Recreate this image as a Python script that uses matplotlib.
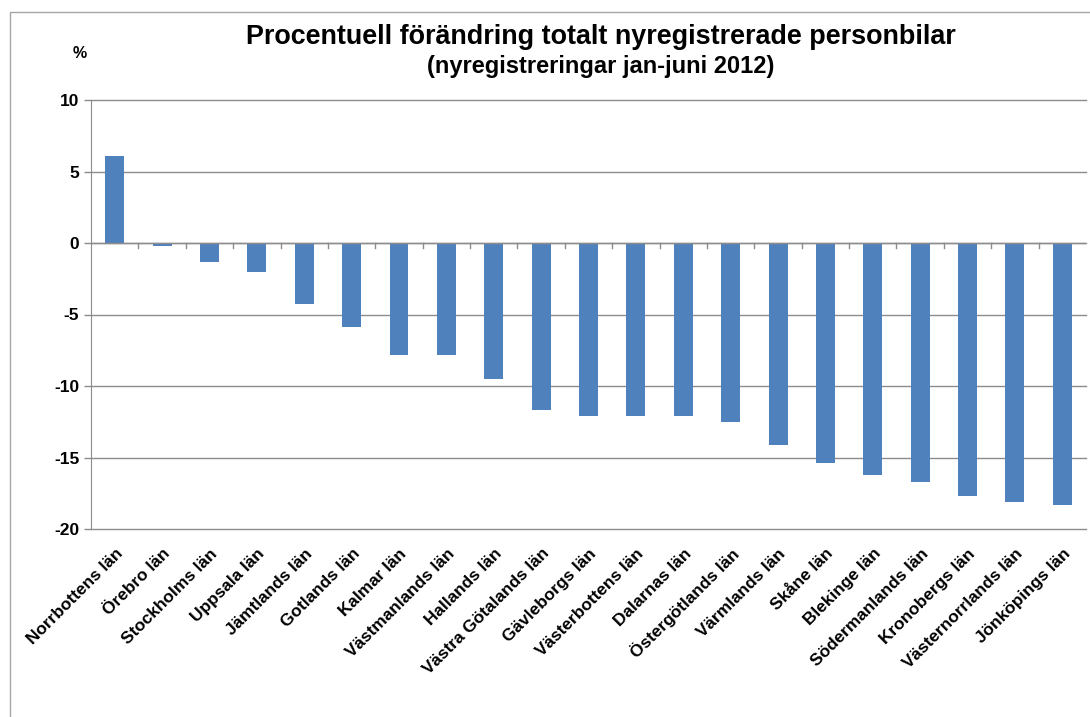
import matplotlib.pyplot as plt
import matplotlib.font_manager as fm
from matplotlib.patches import Rectangle
import numpy as np

# Data
lan = ["Norrbottens län", "Örebro län", "Stockholms län", "Uppsala län",
       "Jämtlands län", "Gotlands län", "Kalmar län", "Västmanlands län",
       "Hallands län", "Västra Götalands län", "Gävleborgs län",
       "Västerbottens län", "Dalarnas län", "Östergötlands län",
       "Värmlands län", "Skåne län", "Blekinge län", "Södermanlands län",
       "Kronobergs län", "Västernorrlands län", "Jönköpings län"]
forandring = [6.1, -0.2, -1.3, -2.0, -4.3, -5.9, -7.8, -7.8, -9.5, -11.7,
              -12.1, -12.1, -12.1, -12.5, -14.1, -15.4, -16.2, -16.7,
              -17.7, -18.1, -18.3]
y_ticks = [10, 5, 0, -5, -10, -15, -20]

names = {f.name for f in fm.fontManager.ttflist}
narrow = "Liberation Sans Narrow" if "Liberation Sans Narrow" in names else "Liberation Sans"
plt.rcParams['font.family'] = ['Liberation Sans', 'DejaVu Sans']

grey = '#8c8c8c'
fig = plt.figure(figsize=(10.9, 7.17), dpi=100)
ax = fig.add_axes([91/1090, 1 - 529/717, (1086 - 91)/1090, (529 - 100)/717])

x = np.arange(len(lan))
ax.bar(x, forandring, width=0.4, color='#4F81BD', zorder=3)

ax.set_xlim(-0.5, len(lan) - 0.5)
ax.set_ylim(-20, 10)
ax.set_yticks(y_ticks)
ax.set_yticklabels([str(v) for v in y_ticks], fontsize=12.5, fontweight='bold')
ax.tick_params(axis='y', length=5, color=grey, width=1, pad=3.5)

# gridlines (drawn by hand so the bottom one at -20 is not clipped)
for v in y_ticks:
    ax.axhline(v, color=grey, linewidth=1, zorder=1, clip_on=False)

for s in ['top', 'right', 'bottom']:
    ax.spines[s].set_visible(False)
ax.spines['left'].set_color(grey)

# horizontal axis on the zero line with ticks between categories
ax.axhline(0, color=grey, linewidth=1, zorder=4)
ax.set_xticks([])
for b in np.arange(0.5, len(lan) - 0.5, 1):
    ax.plot([b, b], [0, -0.35], color=grey, linewidth=1, zorder=4, clip_on=False)

for i, name in enumerate(lan):
    ax.annotate(name, xy=(i, -20), xytext=(4, -16), textcoords='offset points',
                rotation=45, rotation_mode='anchor', ha='right', va='center',
                fontsize=12.4, fontweight='bold')

fig.text(0.551, 1 - 37/717, "Procentuell förändring totalt nyregistrerade personbilar",
         ha='center', va='center', fontsize=19.4, fontweight='bold', family=narrow)
fig.text(0.5515, 1 - 67/717, "(nyregistreringar jan-juni 2012)",
         ha='center', va='center', fontsize=17, fontweight='bold', family=narrow)
fig.text(80/1090, 1 - 54/717, "%", ha='center', va='center', fontsize=11.5, fontweight='bold')

# chart frame
fig.patches.append(Rectangle((10/1090, -0.05), 1.2, 1 - 12/717 + 0.05,
                             transform=fig.transFigure, fill=False,
                             edgecolor='#a6a6a6', linewidth=1))

fig.savefig('out.png', dpi=100)
